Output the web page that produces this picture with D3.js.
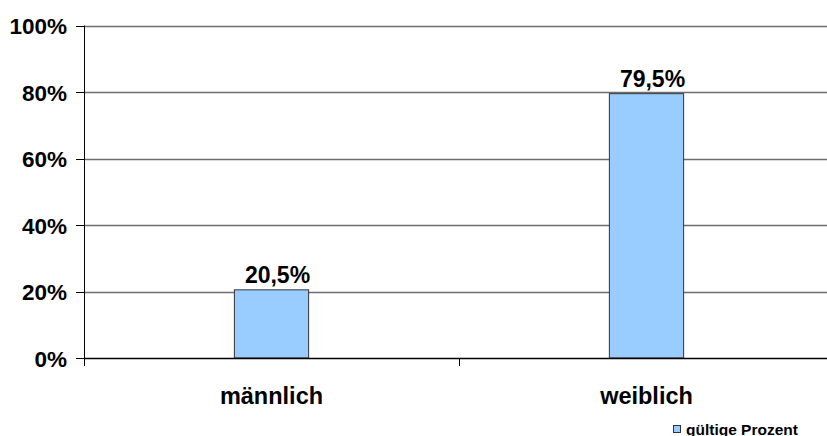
<!DOCTYPE html>
<html>
<head>
<meta charset="utf-8">
<script src="https://cdn.jsdelivr.net/npm/d3@7"></script>
<style>
  html, body { margin: 0; padding: 0; background: #fff; }
  svg { display: block; }
  text { font-family: "Liberation Sans", Arial, sans-serif; font-weight: bold; fill: #000; }
</style>
</head>
<body>
<svg id="chart" width="827" height="436"></svg>
<script>
// Geschlechterverteilung (gültige Prozent)
const categories = ["männlich", "weiblich"];
const values = [20.5, 79.5];
const valueLabels = ["20,5%", "79,5%"];
const yTicks = [0, 20, 40, 60, 80, 100];
const yTickLabels = ["0%", "20%", "40%", "60%", "80%", "100%"];
const seriesName = "gültige Prozent";

const svg = d3.select("#chart");
const plotLeft = 84, plotRight = 834, plotTop = 25.5, plotBottom = 358;

const x = d3.scaleBand().domain(categories).range([plotLeft, plotRight]).paddingInner(0).paddingOuter(0);
const y = d3.scaleLinear().domain([0, 100]).range([plotBottom, plotTop]);

const barW = x.bandwidth() * 0.198;
const barFill = "#99CCFF";

// horizontal gridlines
svg.append("g").selectAll("line").data(yTicks.filter(d => d > 0)).join("line")
  .attr("x1", plotLeft).attr("x2", 827)
  .attr("y1", d => Math.round(y(d)) + 0.5).attr("y2", d => Math.round(y(d)) + 0.5)
  .attr("stroke", "#6e6e6e").attr("stroke-width", 1.3);

// bars
svg.append("g").selectAll("rect").data(values).join("rect")
  .attr("x", (d, i) => x(categories[i]) + x.bandwidth() / 2 - barW / 2)
  .attr("y", d => y(d))
  .attr("width", barW)
  .attr("height", d => plotBottom - y(d))
  .attr("fill", barFill)
  .attr("stroke", "#333")
  .attr("stroke-width", 1);

// value labels
svg.append("g").selectAll("text").data(values).join("text")
  .attr("x", (d, i) => x(categories[i]) + x.bandwidth() / 2 + 6)
  .attr("y", d => y(d) - 7)
  .attr("text-anchor", "middle")
  .style("font-size", "23px")
  .text((d, i) => valueLabels[i]);

// y axis
const yAxis = svg.append("g");
yAxis.append("line").attr("x1", plotLeft + 0.5).attr("x2", plotLeft + 0.5).attr("y1", plotTop).attr("y2", plotBottom)
  .attr("stroke", "#000").attr("stroke-width", 1);
yAxis.selectAll("line.tick").data(yTicks).join("line").attr("class", "tick")
  .attr("x1", plotLeft - 8).attr("x2", plotLeft)
  .attr("y1", d => Math.round(y(d)) + 0.5).attr("y2", d => Math.round(y(d)) + 0.5)
  .attr("stroke", "#000");
yAxis.selectAll("text").data(yTicks).join("text")
  .attr("x", 67).attr("y", d => y(d) + 1)
  .attr("dy", "0.35em")
  .attr("text-anchor", "end")
  .style("font-size", "22.5px")
  .text((d, i) => yTickLabels[i]);

// x axis
const xAxis = svg.append("g");
xAxis.append("line").attr("x1", plotLeft).attr("x2", 827).attr("y1", plotBottom + 0.5).attr("y2", plotBottom + 0.5)
  .attr("stroke", "#000").attr("stroke-width", 1.3);
const bounds = categories.map(c => x(c)).concat([x(categories[categories.length - 1]) + x.bandwidth()]);
xAxis.selectAll("line.tick").data(bounds).join("line").attr("class", "tick")
  .attr("x1", d => Math.round(d) + 0.5).attr("x2", d => Math.round(d) + 0.5)
  .attr("y1", plotBottom).attr("y2", plotBottom + 8)
  .attr("stroke", "#000");
xAxis.selectAll("text").data(categories).join("text")
  .attr("x", d => x(d) + x.bandwidth() / 2)
  .attr("y", 404)
  .attr("text-anchor", "middle")
  .style("font-size", "23.5px")
  .text(d => d);

// legend
const legend = svg.append("g");
legend.append("rect").attr("x", 673.5).attr("y", 425.5).attr("width", 7).attr("height", 7)
  .attr("fill", barFill).attr("stroke", "#333").attr("stroke-width", 1);
legend.append("text").attr("x", 686).attr("y", 434.5)
  .style("font-size", "15.5px")
  .text(seriesName);
</script>
</body>
</html>
